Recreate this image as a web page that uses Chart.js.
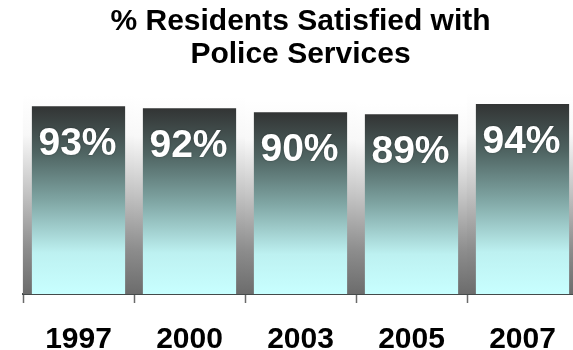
<!DOCTYPE html>
<html>
<head>
<meta charset="utf-8">
<script src="https://cdn.jsdelivr.net/npm/chart.js@4/dist/chart.umd.min.js"></script>
<style>
  html, body { margin: 0; padding: 0; background: #ffffff; overflow: hidden; }
  #wrap { position: relative; width: 578px; height: 350px; }
</style>
</head>
<body>
<div id="wrap"><canvas id="chart"></canvas></div>
<script>
// Survey years and share of residents satisfied (%)
const years = ['1997', '2000', '2003', '2005', '2007'];
const satisfied = [93, 92, 90, 89, 94];
const titleLines = ['% Residents Satisfied with', 'Police Services'];

const FONT = '"Liberation Sans", Arial, Helvetica, sans-serif';

// Soft grey halo behind each bar, fading from white at the top to grey at the base
const haloPlugin = {
  id: 'halo',
  beforeDatasetsDraw(chart) {
    const ctx = chart.ctx;
    const meta = chart.getDatasetMeta(0);
    ctx.save();
    meta.data.forEach(bar => {
      const w = bar.width;
      const left = bar.x - w / 2 - 9;
      const top = bar.y - 11;
      const g = ctx.createLinearGradient(0, top, 0, bar.base);
      g.addColorStop(0, '#ffffff');
      g.addColorStop(0.2, '#f8f8f8');
      g.addColorStop(0.5, '#c2c2c2');
      g.addColorStop(0.78, '#8c8c8c');
      g.addColorStop(1, '#6c6c6c');
      ctx.fillStyle = g;
      ctx.fillRect(left, top, w + 18, bar.base - top);
    });
    ctx.restore();
  },
  afterDatasetsDraw(chart) {
    // value labels inside the top of each bar
    const ctx = chart.ctx;
    const meta = chart.getDatasetMeta(0);
    const data = chart.data.datasets[0].data;
    ctx.save();
    ctx.font = 'bold 39px ' + FONT;
    ctx.textAlign = 'center';
    ctx.textBaseline = 'alphabetic';
    ctx.fillStyle = '#ffffff';
    ctx.shadowColor = 'rgba(0,0,0,0.35)';
    ctx.shadowBlur = 2;
    meta.data.forEach((bar, i) => {
      ctx.fillText(data[i] + '%', bar.x - 1, bar.y + 49);
    });
    ctx.restore();
  }
};

function barGradient(context) {
  const chart = context.chart;
  const area = chart.chartArea;
  if (!area) return '#6a8a88';
  const yScale = chart.scales.y;
  const top = yScale.getPixelForValue(context.raw);
  const bottom = yScale.getPixelForValue(0);
  const g = chart.ctx.createLinearGradient(0, top, 0, bottom);
  g.addColorStop(0, '#323434');
  g.addColorStop(0.25, '#4f6462');
  g.addColorStop(0.5, '#7fa5a3');
  g.addColorStop(0.78, '#bdf1f1');
  g.addColorStop(1, '#c8ffff');
  return g;
}

new Chart(document.getElementById('chart'), {
  type: 'bar',
  data: {
    labels: years,
    datasets: [{
      data: satisfied,
      backgroundColor: barGradient,
      borderWidth: 0,
      barPercentage: 0.84,
      categoryPercentage: 1
    }]
  },
  options: {
    responsive: true,
    maintainAspectRatio: false,
    animation: false,
    devicePixelRatio: 1,
    layout: { padding: { left: 23, right: 0, top: 0, bottom: 0 } },
    plugins: {
      legend: { display: false },
      tooltip: { enabled: false },
      title: {
        display: true,
        text: titleLines,
        color: '#000000',
        font: { family: FONT, size: 30, weight: 'bold', lineHeight: 1.1 },
        padding: { top: 5, bottom: 21 }
      }
    },
    scales: {
      x: {
        offset: true,
        afterFit(scale) { scale.height = 56; },
        grid: {
          display: true,
          offset: true,
          drawOnChartArea: false,
          drawTicks: true,
          tickLength: 9,
          tickWidth: 1.5,
          tickColor: '#6a6a6a'
        },
        border: { display: true, color: '#454a4a', width: 2 },
        ticks: {
          color: '#000000',
          padding: 19,
          font: { family: FONT, size: 30, weight: 'bold', lineHeight: 1.2 },
          maxRotation: 0
        }
      },
      y: {
        display: false,
        min: 0,
        max: 100
      }
    }
  },
  plugins: [haloPlugin]
});
</script>
</body>
</html>
